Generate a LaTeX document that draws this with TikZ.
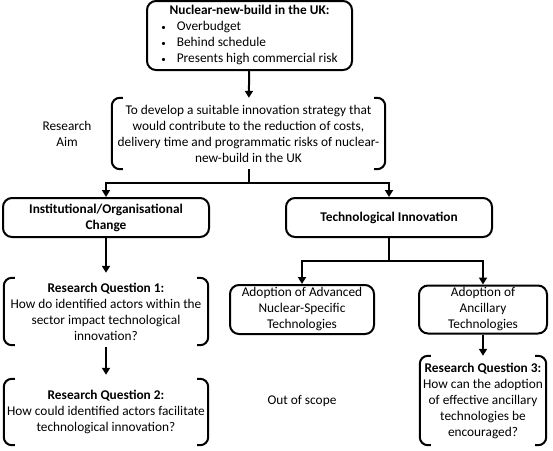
\documentclass[tikz,border=0pt]{standalone}
\usepackage{fontspec}
\setmainfont{Carlito}
\usetikzlibrary{positioning,arrows.meta}

\tikzset{
    box/.style={draw, line width=2pt, rounded corners=9pt, align=center, inner sep=0pt},
    bracketed/.style={align=center, inner sep=0pt},
    bracket/.style={line width=2pt, rounded corners=8pt},
    link/.style={line width=2pt, -{Triangle[length=7pt,width=8pt]}},
    fork/.style={line width=2pt}
}

\newcommand{\drawbrackets}[1]{%
    \draw[bracket] ([xshift=11pt]#1.north west) -- (#1.north west) -- (#1.south west) -- ([xshift=11pt]#1.south west);
    \draw[bracket] ([xshift=-11pt]#1.north east) -- (#1.north east) -- (#1.south east) -- ([xshift=-11pt]#1.south east);
}
\newcommand{\smallbullet}{{\fontsize{9}{16}\selectfont\textbullet}}

\begin{document}
\begin{tikzpicture}[
    x=1pt, y=-1pt,
    every node/.style={font=\fontsize{13.33}{16}\selectfont}
]
\useasboundingbox (0,0) rectangle (553,450);

\node[box, minimum width=205pt, minimum height=69pt] (nuclear) at (249.5,35.5) {%
    \begin{tabular}{@{}c@{\hspace{11pt}}l@{}}
    \multicolumn{2}{@{}c@{}}{\textbf{Nuclear-new-build in the UK:}}\\
    \smallbullet & Overbudget\\
    \smallbullet & Behind schedule\\
    \smallbullet & Presents high commercial risk
    \end{tabular}};

\node[bracketed, minimum width=273pt, minimum height=71pt] (aim) at (248.5,133.5)
    {To develop a suitable innovation strategy that\\would contribute to the reduction of costs,\\delivery time and programmatic risks of nuclear-\\new-build in the UK};
\node[align=center, inner sep=0pt] (aimlabel) at (67,134) {Research\\Aim};

\node[box, minimum width=206pt, minimum height=39pt] (inst) at (106,217.5)
    {\textbf{Institutional/Organisational}\\\textbf{Change}};
\node[box, minimum width=206pt, minimum height=39pt] (tech) at (389,217.5)
    {\textbf{Technological Innovation}};

\node[bracketed, minimum width=204pt, minimum height=67pt] (rq1) at (106,311.5)
    {\textbf{Research Question 1:}\\How do identified actors within the\\sector impact technological\\innovation?};
\node[bracketed, minimum width=204pt, minimum height=66pt] (rq2) at (106,412)
    {\textbf{Research Question 2:}\\How could identified actors facilitate\\technological innovation?};

\node[box, minimum width=144pt, minimum height=49pt] (advanced) at (302,309.5)
    {Adoption of Advanced\\Nuclear-Specific\\Technologies};
\node[box, minimum width=128pt, minimum height=48pt] (ancillary) at (483,309.5)
    {Adoption of\\Ancillary\\Technologies};

\node[inner sep=0pt] (scope) at (302,401) {Out of scope};
\node[bracketed, minimum width=126pt, minimum height=89pt] (rq3) at (483,400.5)
    {\textbf{Research Question 3:}\\How can the adoption\\of effective ancillary\\technologies be\\encouraged?};

\drawbrackets{aim}
\drawbrackets{rq1}
\drawbrackets{rq2}
\drawbrackets{rq3}

\draw[link] (nuclear) -- (aim);

\draw[fork] (aim.south) -- ++(0,14) coordinate (aimfork);
\draw[link] (aimfork) -| (inst.north);
\draw[link] (aimfork) -| (tech.north);

\draw[link, shorten >=5pt] (inst) -- (rq1);
\draw[link, shorten <=2pt, shorten >=4pt] (rq1) -- (rq2);

\draw[fork] (tech.south) -- ++(0,23) coordinate (techfork);
\draw[link] (techfork) -| (advanced.north);
\draw[link] (techfork) -| (ancillary.north);

\draw[link] (ancillary) -- (rq3);

\end{tikzpicture}
\end{document}
